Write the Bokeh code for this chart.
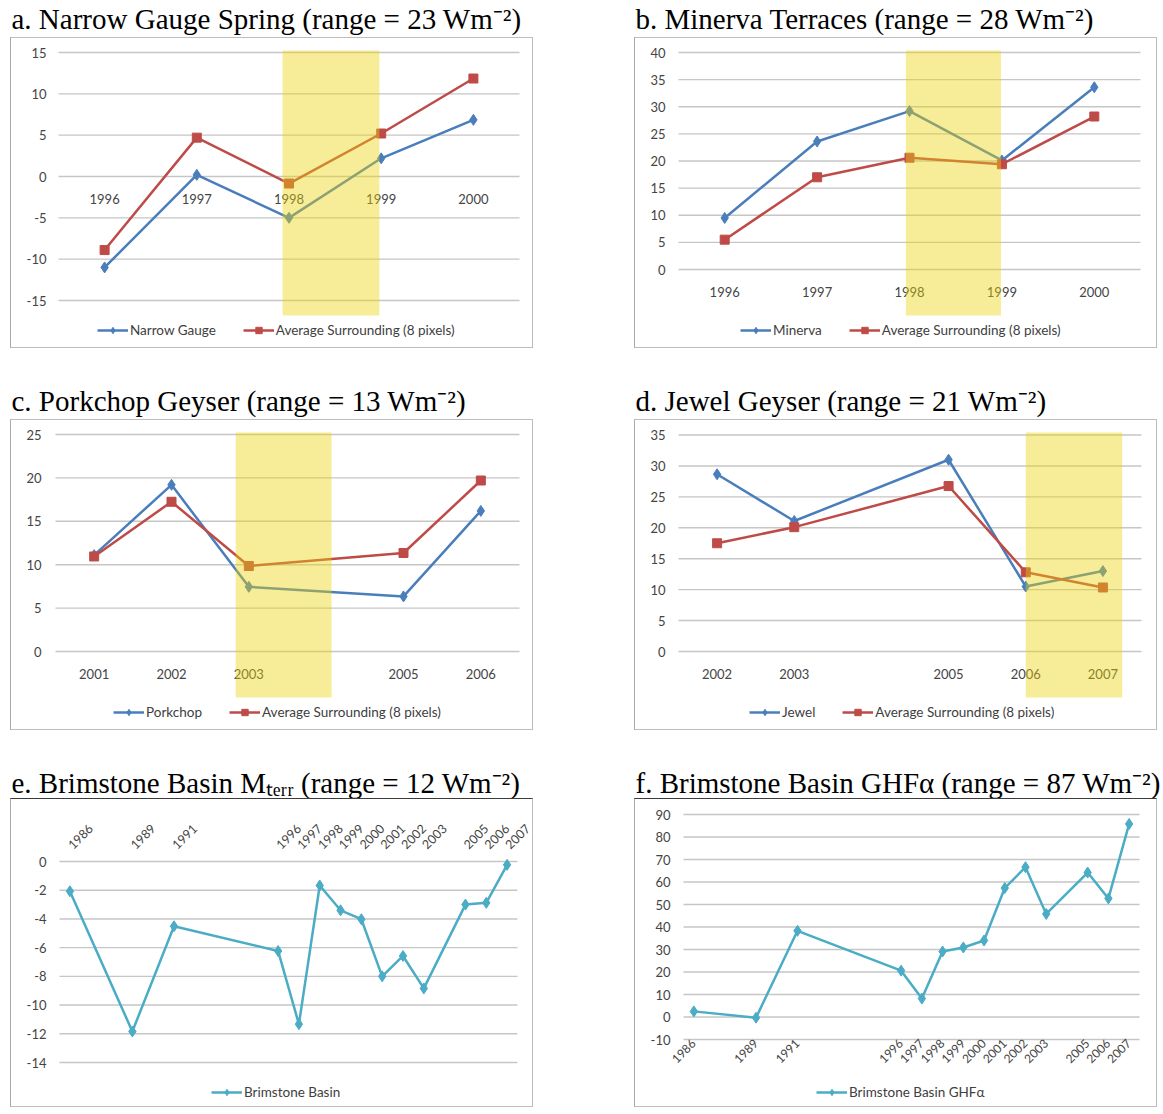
import math
from bokeh.plotting import figure
from bokeh.models import Range1d, FixedTicker, Legend, LegendItem, BoxAnnotation, Spacer
from bokeh.layouts import column, row
from bokeh.embed import file_html
from bokeh.resources import INLINE

# ---------------- data ----------------
years_ab = [1996, 1997, 1998, 1999, 2000]
narrow_gauge = [-11.0, 0.2, -5.0, 2.2, 6.85]
narrow_avg = [-8.9, 4.7, -0.85, 5.2, 11.85]
minerva = [9.5, 23.6, 29.2, 20.1, 33.6]
minerva_avg = [5.5, 17.0, 20.6, 19.4, 28.2]

years_c = [2001, 2002, 2003, 2005, 2006]
porkchop = [11.1, 19.2, 7.45, 6.35, 16.2]
porkchop_avg = [10.95, 17.25, 9.85, 11.35, 19.7]

years_d = [2002, 2003, 2005, 2006, 2007]
jewel = [28.65, 21.1, 31.0, 10.5, 13.0]
jewel_avg = [17.5, 20.1, 26.75, 12.8, 10.35]

years_ef = [1986, 1989, 1991, 1996, 1997, 1998, 1999, 2000, 2001, 2002, 2003, 2005, 2006, 2007]
brimstone_mterr = [-2.07, -11.84, -4.51, -6.23, -11.33, -1.67, -3.4, -4.02, -8.0, -6.58, -8.84, -3.0, -2.88, -0.23]
brimstone_ghf = [2.5, -0.3, 38.3, 20.6, 8.2, 29.1, 30.9, 34.0, 57.3, 66.6, 45.8, 64.2, 52.7, 85.8]

yticks_a = [-15, -10, -5, 0, 5, 10, 15]
yticks_b = [0, 5, 10, 15, 20, 25, 30, 35, 40]
yticks_c = [0, 5, 10, 15, 20, 25]
yticks_d = [0, 5, 10, 15, 20, 25, 30, 35]
yticks_e = [-14, -12, -10, -8, -6, -4, -2, 0]
yticks_f = [-10, 0, 10, 20, 30, 40, 50, 60, 70, 80, 90]

highlight_a = (1997.93, 1998.98)
highlight_b = (1997.96, 1998.99)
highlight_c = (2002.83, 2004.07)
highlight_d = (2006.0, 2007.25)

titles = [
    "a. Narrow Gauge Spring (range = 23 Wm\u207b\u00b2)",
    "b. Minerva Terraces (range = 28 Wm\u207b\u00b2)",
    "c. Porkchop Geyser (range = 13 Wm\u207b\u00b2)",
    "d. Jewel Geyser (range = 21 Wm\u207b\u00b2)",
    "e. Brimstone Basin M\u209c\u2091\u1d63\u1d63 (range = 12 Wm\u207b\u00b2)",
    "f. Brimstone Basin GHF\u03b1 (range = 87 Wm\u207b\u00b2)",
]
avg_label = "Average Surrounding (8 pixels)"

# ---------------- style ----------------
BLUE = "#4A7EBB"
RED = "#BE4B48"
TEAL = "#4AACC5"
GRID = "#C6C6C6"
TICK = "#444444"
BAND_COLOR = "#EBD40C"
BAND_ALPHA = 0.42

CW = 523          # chart canvas width (box = canvas + 1px css border each side)
BOXW = CW + 2


def make_title(text, h, w):
    t = figure(width=w, height=h, toolbar_location=None, output_backend="svg",
               x_axis_type=None, y_axis_type=None,
               min_border_left=0, min_border_right=0, min_border_top=0, min_border_bottom=0,
               x_range=Range1d(0, 1), y_range=Range1d(0, 1))
    t.outline_line_color = None
    t.title.text = text
    t.title.align = "left"
    t.title.text_font = "Liberation Serif"
    t.title.text_font_size = "29px"
    t.title.text_font_style = "normal"
    t.title.text_color = "#000000"
    t.title.standoff = 0
    t.title.offset = -10
    return t


def style_axis(ax):
    ax.axis_line_color = None
    ax.major_tick_line_color = None
    ax.minor_tick_line_color = None
    ax.major_tick_out = 0
    ax.major_tick_in = 0
    ax.major_label_text_font = "Lato"
    ax.major_label_text_font_size = "13px"
    ax.major_label_text_color = TICK


def make_chart(xs, series, x_plot, plot_px, yticks, cal, box_h, ylab_right, band,
               axis_side, axis_at, angle, standoff, legend_left, legend_center,
               dark_top=False, xlab_size="13px"):
    ch = box_h - 2
    ft, fb = 10, box_h - 8
    fl, fr = 12, 524
    (v1, r1), (v2, r2) = cal
    ppu = (r2 - r1) / (v1 - v2)
    y_end = v1 + (r1 - ft) / ppu
    y_start = v2 - (fb - r2) / ppu
    x0, x1 = x_plot
    pl, pr = plot_px
    ppx = (pr - pl) / (x1 - x0)
    x_start = x0 - (pl - fl) / ppx
    x_end = x1 + (fr - pr) / ppx
    p = figure(width=CW, height=ch, x_range=Range1d(x_start, x_end),
               y_range=Range1d(y_start, y_end), output_backend="svg",
               toolbar_location=None, x_axis_location=axis_side,
               min_border_left=fl - 1, min_border_right=CW - (fr - 1),
               min_border_top=ft - 1, min_border_bottom=ch - (fb - 1))
    p.outline_line_color = None
    p.xgrid.visible = False
    p.ygrid.visible = False
    # gridlines across the plot area only
    n = len(yticks)
    p.segment(x0=[x0] * n, x1=[x1] * n, y0=yticks, y1=yticks,
              line_color=GRID, line_width=1.4)

    ya = p.yaxis[0]
    style_axis(ya)
    ya.ticker = FixedTicker(ticks=yticks)
    ya.fixed_location = x0
    ya.major_label_standoff = pl - ylab_right
    ya.major_label_overrides = {t: str(t) for t in yticks}

    xa = p.xaxis[0]
    style_axis(xa)
    xa.ticker = FixedTicker(ticks=xs)
    xa.fixed_location = axis_at
    xa.major_label_standoff = standoff
    xa.major_label_text_font_size = xlab_size
    xa.major_label_overrides = {t: str(t) for t in xs}
    if angle:
        xa.major_label_orientation = angle

    items = []
    for vals, color, marker, msize, label in series:
        ln = p.line(xs, vals, line_color=color, line_width=2.5)
        sc = p.scatter(xs, vals, marker=marker, size=msize, fill_color=color, line_color=color)
        items.append(LegendItem(label=label, renderers=[ln, sc]))

    if band is not None:
        yt = v1 + (r1 - 13) / ppu
        yb = v1 + (r1 - 278) / ppu
        p.add_layout(BoxAnnotation(left=band[0], right=band[1], bottom=yb, top=yt,
                                   fill_color=BAND_COLOR, fill_alpha=BAND_ALPHA,
                                   line_color=None))

    leg = Legend(items=items, orientation="horizontal",
                 location=(legend_left - fl, fb - (legend_center + 8)),
                 border_line_color=None, background_fill_alpha=0,
                 padding=0, margin=0, spacing=27, glyph_width=31, glyph_height=16,
                 label_height=16, label_standoff=2, label_text_font="Lato",
                 label_text_font_size="13.5px", label_text_color="#404040")
    p.add_layout(leg)
    border = "1px solid #BDBDBD"
    p.styles = {"border": border,
                "border-left": "1px solid #A9A9A9",
                "border-top": ("1px solid #3a3a3a" if dark_top else border)}
    return p


def two(main, avg, main_label):
    return [(main, BLUE, "diamond", 11, main_label), (avg, RED, "square", 9, avg_label)]


pa = make_chart(years_ab, two(narrow_gauge, narrow_avg, "Narrow Gauge"), (1995.5, 2000.5), (48, 509),
                yticks_a, ((15, 15), (-15, 263)), 313, 36, highlight_a,
                "below", 0, 0, 17, 87, 293)
pb = make_chart(years_ab, two(minerva, minerva_avg, "Minerva"), (1995.5, 2000.5), (44, 506),
                yticks_b, ((40, 15), (0, 232)), 313, 31, highlight_b,
                "below", 0, 0, 17, 106, 293)
pc = make_chart(years_c, two(porkchop, porkchop_avg, "Porkchop"), (2000.5, 2006.5), (45, 509),
                yticks_c, ((25, 15), (0, 232)), 313, 31, highlight_c,
                "below", 0, 0, 17, 103, 293)
pd = make_chart(years_d, two(jewel, jewel_avg, "Jewel"), (2001.5, 2007.5), (44, 507),
                yticks_d, ((35, 15.5), (0, 232)), 313, 31, highlight_d,
                "below", 0, 0, 17, 115, 293)
pe = make_chart(years_ef, [(brimstone_mterr, TEAL, "diamond", 11, "Brimstone Basin")],
                (1985.5, 2007.5), (49, 507), yticks_e, ((0, 63), (-14, 264)), 311, 36, None,
                "above", 0, math.pi / 4, 15, 201, 294, dark_top=True, xlab_size="12.5px")
pf = make_chart(years_ef, [(brimstone_ghf, TEAL, "diamond", 11, "Brimstone Basin GHF\u03b1")],
                (1985.5, 2007.5), (49, 505), yticks_f, ((90, 16), (-10, 241)), 311, 36, None,
                "below", -10, math.pi / 4, 2, 182, 294, dark_top=True, xlab_size="12px")

charts = [pa, pb, pc, pd, pe, pf]
title_h = [37, 37, 37, 37, 34, 34]
title_w = [BOXW, BOXW + 3, BOXW, BOXW + 3, BOXW, BOXW + 3]
panels = [column(make_title(t, h, w), c, spacing=0)
          for t, c, h, w in zip(titles, charts, title_h, title_w)]


def pair(left, right):
    return row(Spacer(width=10), left, Spacer(width=99), right, spacing=0)


layout = column(
    pair(panels[0], panels[1]),
    Spacer(height=34),
    pair(panels[2], panels[3]),
    Spacer(height=34),
    pair(panels[4], panels[5]),
    spacing=0,
)

open("out.html", "w").write(file_html(layout, INLINE))
